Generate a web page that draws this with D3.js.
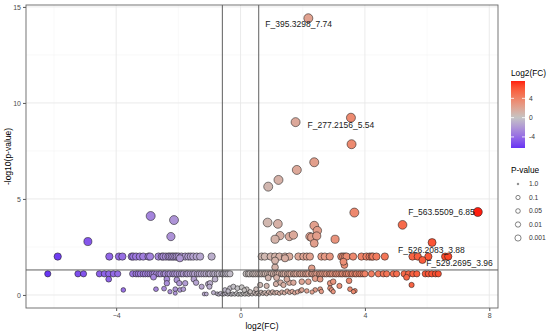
<!DOCTYPE html>
<html>
<head>
<meta charset="utf-8">
<script src="https://cdn.jsdelivr.net/npm/d3@7"></script>
<style>
  body { margin: 0; background: #fff; }
  #chart svg { display: block; font-family: "Liberation Sans", Arial, sans-serif; }
</style>
</head>
<body>
<div id="chart"></div>
<script>
// points sitting on the two discrete p-value rows (only log2FC varies)
const rowP01Y = 2.0;
const rowP01 = [-5.88, -4.22, -3.91, -3.80, -3.50, -3.45, -3.36, -3.24, -3.13, -2.96, -2.91, -2.64, -2.53,
    -2.48, -2.40, -2.32, -2.27, -2.21, -2.16, -2.10, -2.05, -1.99, -1.90, -1.78, -1.68, -1.60, -1.52, -1.41,
    -1.30, -0.93, 0.68, 0.78, 0.97, 1.11, 1.25, 1.43, 1.57, 1.86, 2.02, 2.13, 2.23, 2.60, 2.71, 2.87, 3.24,
    3.30, 3.36, 3.41, 3.62, 3.89, 4.05, 4.15, 4.22, 4.26, 4.37, 4.64, 5.53, 5.70, 6.04, 6.58, 6.68];

const rowP08Y = 1.1;
const rowP08 = [-6.20, -5.23, -5.05, -4.54, -4.38, -4.24, -4.09, -3.95, -3.47, -3.36, -3.29, -3.22, -3.13,
    -3.06, -2.98, -2.91, -2.84, -2.78, -2.70, -2.62, -2.56, -2.47, -2.42, -2.33, -2.27, -2.18, -2.12, -2.05,
    -1.97, -1.90, -1.84, -1.75, -1.70, -1.62, -1.54, -1.48, -1.39, -1.33, -1.26, -1.18, -1.11, -1.03, -0.98,
    -0.89, -0.83, -0.75, -0.69, -0.60, -0.55, -0.47, -0.41, -0.34,
    0.18, 0.25, 0.30, 0.38, 0.43, 0.49, 0.56, 0.62, 0.68, 0.75, 0.80, 0.87, 0.94, 0.99, 1.06, 1.13, 1.18,
    1.24, 1.32, 1.37, 1.43, 1.51, 1.56, 1.62, 1.70, 1.75, 1.81, 1.89, 1.94, 2.01, 2.08, 2.13, 2.19, 2.28,
    2.32, 2.39, 2.45, 2.53, 2.58, 2.64, 2.71, 2.77, 2.85, 2.90, 2.96, 3.04, 3.09, 3.16, 3.23, 3.28, 3.36,
    3.41, 3.47, 3.55, 3.60, 3.68, 3.73, 3.81, 3.87, 3.94, 4.00, 4.21, 4.43, 4.59, 4.70, 4.91, 5.02, 5.26,
    5.40, 5.54, 5.67, 5.94, 6.04, 6.15, 6.27, 6.36];

// [log2FC, -log10(p)] for everything else
const baseRow = [[-1.17, 0.05], [-1.10, 0.05], [-0.87, 0.12], [-0.75, 0.06], [-0.70, 0.03], [-0.64, 0.08],
    [-0.58, 0.02], [-0.52, 0.05], [-0.47, 0.10], [-0.41, 0.03], [-0.36, 0.07], [-0.30, 0.02], [-0.25, 0.06],
    [-0.19, 0.03], [-0.13, 0.08], [-0.08, 0.02], [-0.02, 0.05], [0.03, 0.02], [0.09, 0.07], [0.14, 0.03],
    [0.20, 0.06], [0.26, 0.02], [0.31, 0.09], [0.37, 0.04], [0.43, 0.12], [0.49, 0.05], [0.55, 0.10],
    [0.60, 0.03], [0.66, 0.14], [0.72, 0.07], [0.78, 0.12], [0.84, 0.05], [0.90, 0.15], [0.97, 0.09],
    [1.03, 0.16], [1.10, 0.10], [1.17, 0.13], [1.25, 0.08], [1.33, 0.15], [1.41, 0.11], [1.50, 0.20],
    [1.58, 0.13], [1.66, 0.18], [1.74, 0.11], [1.83, 0.16], [1.93, 0.22],
    [-0.50, 0.26], [-0.34, 0.35], [-0.23, 0.43], [-0.10, 0.35], [0.04, 0.40], [0.20, 0.30], [0.31, 0.17],
    [-0.40, 0.20], [0.12, 0.25], [0.50, 0.30]];

const scatterNeg = [[-4.91, 2.78], [-2.89, 4.11], [-2.14, 3.90], [-2.24, 3.04], [-1.95, 1.91],
    [-4.24, 0.82], [-3.77, 0.26], [-2.80, 0.93], [-2.37, 0.82], [-2.37, 0.61], [-2.05, 0.78], [-1.97, 0.61],
    [-1.78, 0.61], [-1.50, 0.82], [-1.43, 0.64], [-1.25, 0.43], [-1.04, 0.57], [-0.98, 0.61], [-1.00, 0.43],
    [-0.82, 0.82], [-2.72, 0.30], [-2.46, 0.33], [-2.27, 0.17], [-2.10, 0.30], [-2.10, 0.09], [-1.95, 0.26],
    [-1.84, 0.30]];

const scatterPos = [[2.18, 14.41], [3.55, 9.23], [1.77, 9.00], [3.57, 7.85], [2.37, 6.91], [1.81, 6.51],
    [1.22, 5.99], [0.89, 5.64], [3.66, 4.29], [7.63, 4.32], [5.21, 3.65], [0.87, 3.77], [1.20, 3.70],
    [2.37, 3.61], [2.47, 3.35], [1.27, 3.09], [1.11, 2.90], [1.57, 3.04], [1.70, 3.12], [2.23, 3.04],
    [2.29, 3.00], [2.45, 3.07], [3.04, 2.90], [2.37, 2.69], [6.16, 2.73],
    [1.11, 1.44], [2.29, 1.39], [3.34, 1.56], [3.31, 1.73], [1.11, 1.79], [1.43, 1.91], [5.85, 1.82],
    [0.63, 0.52], [0.84, 0.47], [1.14, 0.57], [1.29, 0.64], [1.38, 0.52], [1.57, 0.64], [1.70, 0.64],
    [1.97, 0.69], [2.18, 0.69], [2.88, 0.61], [2.88, 0.35], [3.18, 0.47], [3.49, 0.74], [3.52, 0.30],
    [3.68, 0.22], [1.97, 0.26], [2.13, 0.21], [2.40, 0.26], [2.56, 0.30], [2.93, 0.26], [2.98, 0.17],
    [3.63, 0.17], [2.30, 0.15], [2.60, 0.18], [1.16, 0.90], [0.89, 0.89], [1.49, 0.82], [2.40, 0.85],
    [2.56, 0.82], [2.98, 0.69], [5.34, 0.92], [5.50, 0.52]];

const labelNames = ["F_395.3298_7.74", "F_277.2156_5.54", "F_563.5509_6.85", "F_526.2083_3.88", "F_529.2695_3.96"];
const labelFC = [2.18, 1.77, 7.63, 6.16, 6.58];
const labelLogP = [14.41, 9.00, 4.32, 2.73, 2.03];

const xTicks = [-4, 0, 4, 8];
const xMinor = [-6, -2, 2, 6];
const yTicks = [0, 5, 10, 15];
const yMinor = [2.5, 7.5, 12.5];
const colorTicks = [-4, 0, 4];
const pBreaks = [1.0, 0.1, 0.05, 0.01, 0.001];
const pBreakLabels = ["1.0", "0.1", "0.05", "0.01", "0.001"];

const fcCut = Math.log2(1.5);
const pCut = -Math.log10(0.05);

class VolcanoPlot {
    constructor() {
        this.width = 550;
        this.height = 334;
        this.panel = { left: 26, right: 498, top: 5, bottom: 308 };
        this.svg = null;
        this.g = null;
    }

    init() {
        this.points = [
            ...rowP01.map(x => [x, rowP01Y]),
            ...rowP08.map(x => [x, rowP08Y]),
            ...baseRow, ...scatterNeg, ...scatterPos
        ];

        this.x = d3.scaleLinear().domain([-6.9, 8.28]).range([this.panel.left, this.panel.right]);
        this.y = d3.scaleLinear().domain([-0.68, 15.1]).range([this.panel.bottom, this.panel.top]);
        this.color = d3.scaleLinear().domain([-6.3, 0, 7.6])
            .range(["#6633f5", "#c4c4c4", "#ff1f10"]).interpolate(d3.interpolateLab);
        this.size = d3.scaleSqrt().domain([0, 4]).range([1.6, 4.5]).clamp(true);

        this.svg = d3.select('#chart').append('svg')
            .attr('width', this.width)
            .attr('height', this.height);

        this.drawPanel();
        this.drawPoints();
        this.drawLegend();
    }

    drawPanel() {
        const { left, right, top, bottom } = this.panel;
        const svg = this.svg;

        svg.append('rect').attr('x', left).attr('y', top)
            .attr('width', right - left).attr('height', bottom - top).attr('fill', '#fff');

        const grid = svg.append('g').attr('class', 'grid');
        grid.selectAll('.vminor').data(xMinor).join('line')
            .attr('x1', d => this.x(d)).attr('x2', d => this.x(d)).attr('y1', top).attr('y2', bottom)
            .attr('stroke', '#f2f2f2').attr('stroke-width', 0.5);
        grid.selectAll('.hminor').data(yMinor).join('line').attr('class', 'hminor')
            .attr('y1', d => this.y(d)).attr('y2', d => this.y(d)).attr('x1', left).attr('x2', right)
            .attr('stroke', '#f2f2f2').attr('stroke-width', 0.5);
        grid.selectAll('.vmajor').data(xTicks).join('line').attr('class', 'vmajor')
            .attr('x1', d => this.x(d)).attr('x2', d => this.x(d)).attr('y1', top).attr('y2', bottom)
            .attr('stroke', '#e8e8e8').attr('stroke-width', 0.9);
        grid.selectAll('.hmajor').data(yTicks).join('line').attr('class', 'hmajor')
            .attr('y1', d => this.y(d)).attr('y2', d => this.y(d)).attr('x1', left).attr('x2', right)
            .attr('stroke', '#e8e8e8').attr('stroke-width', 0.9);

        // axes
        const xAxis = svg.append('g').attr('transform', `translate(0,${bottom})`)
            .call(d3.axisBottom(this.x).tickValues(xTicks).tickSize(3).tickPadding(2));
        const yAxis = svg.append('g').attr('transform', `translate(${left},0)`)
            .call(d3.axisLeft(this.y).tickValues(yTicks).tickSize(3).tickPadding(2));
        [xAxis, yAxis].forEach(a => {
            a.select('.domain').remove();
            a.selectAll('line').attr('stroke', '#555');
            a.selectAll('text').attr('fill', '#4d4d4d').style('font-size', '7px')
                .style('font-family', '"Liberation Sans", Arial, sans-serif');
        });

        svg.append('text').attr('x', (left + right) / 2).attr('y', 329)
            .attr('text-anchor', 'middle').style('font-size', '8.5px').text('log2(FC)');
        svg.append('text').attr('transform', `translate(11,${(top + bottom) / 2}) rotate(-90)`)
            .attr('text-anchor', 'middle').style('font-size', '8.5px').text('-log10(p-value)');
    }

    drawPoints() {
        const { left, right, top, bottom } = this.panel;
        this.g = this.svg.append('g').attr('class', 'points');

        this.g.selectAll('circle')
            .data(this.points)
            .join('circle')
            .attr('cx', ([x]) => this.x(x))
            .attr('cy', ([_, y]) => this.y(y))
            .attr('r', ([_, y]) => this.size(y))
            .attr('fill', ([x]) => this.color(x))
            .attr('stroke', '#1a1a1a')
            .attr('stroke-width', 0.55);

        // threshold lines
        const th = this.svg.append('g').attr('stroke', '#4d4d4d').attr('stroke-width', 0.9);
        th.selectAll('.v').data([-fcCut, fcCut]).join('line')
            .attr('x1', d => this.x(d)).attr('x2', d => this.x(d)).attr('y1', top).attr('y2', bottom);
        th.append('line').attr('x1', left).attr('x2', right)
            .attr('y1', this.y(pCut)).attr('y2', this.y(pCut));

        // repelled labels, nudged by hand
        const nudge = [[-43, 9, 'start'], [12, 6, 'start'], [-3, 3.5, 'end'], [-34, 10, 'start'], [-19, 10, 'start']];
        this.svg.append('g').selectAll('text')
            .data(labelNames)
            .join('text')
            .attr('x', (d, i) => this.x(labelFC[i]) + nudge[i][0])
            .attr('y', (d, i) => this.y(labelLogP[i]) + nudge[i][1])
            .attr('text-anchor', (d, i) => nudge[i][2])
            .style('font-size', '8.5px')
            .attr('fill', '#1a1a1a')
            .text(d => d);

        this.svg.append('rect').attr('x', left).attr('y', top)
            .attr('width', right - left).attr('height', bottom - top)
            .attr('fill', 'none').attr('stroke', '#666').attr('stroke-width', 0.9);
    }

    drawLegend() {
        const svg = this.svg;
        const bar = { x: 511, y: 81, w: 14, h: 67 };
        const cScale = d3.scaleLinear().domain([-6.3, 7.6]).range([bar.y + bar.h, bar.y]);

        svg.append('text').attr('x', 511).attr('y', 76).style('font-size', '8.3px').text('Log2(FC)');

        const grad = svg.append('defs').append('linearGradient').attr('id', 'fcgrad')
            .attr('x1', 0).attr('x2', 0).attr('y1', 1).attr('y2', 0);
        d3.range(0, 1.0001, 0.05).forEach(t => {
            grad.append('stop').attr('offset', t)
                .attr('stop-color', this.color(-6.3 + t * 13.9));
        });
        svg.append('rect').attr('x', bar.x).attr('y', bar.y).attr('width', bar.w).attr('height', bar.h)
            .attr('fill', 'url(#fcgrad)');

        const ct = svg.append('g');
        colorTicks.forEach(v => {
            const yy = cScale(v);
            ct.append('line').attr('x1', bar.x).attr('x2', bar.x + 3).attr('y1', yy).attr('y2', yy)
                .attr('stroke', '#fff').attr('stroke-width', 0.8);
            ct.append('line').attr('x1', bar.x + bar.w - 3).attr('x2', bar.x + bar.w).attr('y1', yy).attr('y2', yy)
                .attr('stroke', '#fff').attr('stroke-width', 0.8);
            ct.append('text').attr('x', 529).attr('y', yy + 2.4).style('font-size', '6.7px')
                .attr('fill', '#333').text(v);
        });

        svg.append('text').attr('x', 511).attr('y', 173).style('font-size', '8.3px').text('P-value');

        const legendSize = d3.scaleSqrt().domain([0, 3]).range([0.8, 3.1]);
        const items = svg.append('g').selectAll('g')
            .data(pBreaks)
            .join('g')
            .attr('transform', (d, i) => `translate(518,${184 + i * 13.5})`);
        items.append('circle')
            .attr('r', d => legendSize(-Math.log10(d)))
            .attr('fill', 'none').attr('stroke', '#333').attr('stroke-width', 0.6);
        items.append('text').attr('x', 11).attr('y', 2.4).style('font-size', '6.7px')
            .attr('fill', '#333').text((d, i) => pBreakLabels[i]);
    }
}

const chart = new VolcanoPlot();
chart.init();
</script>
</body>
</html>
